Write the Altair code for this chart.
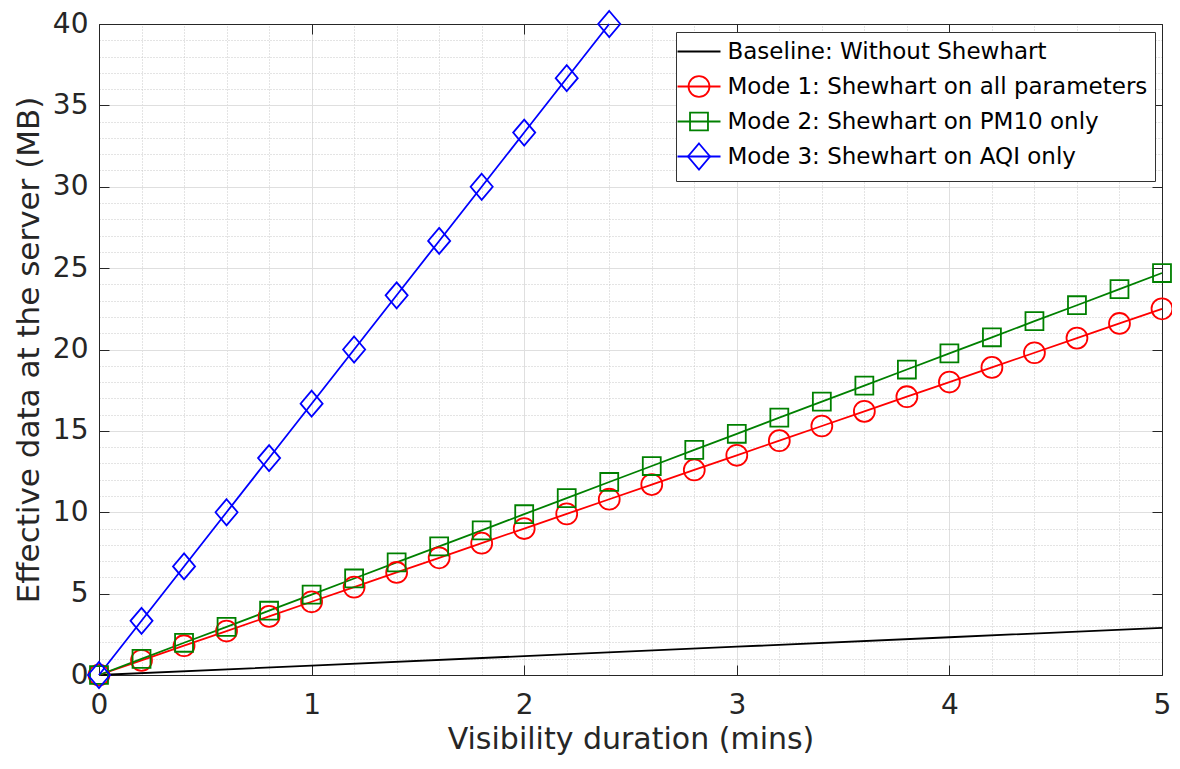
import altair as alt
import pandas as pd

# ---------------- data ----------------
names = [
    "Baseline: Without Shewhart",
    "Mode 1: Shewhart on all parameters",
    "Mode 2: Shewhart on PM10 only",
    "Mode 3: Shewhart on AQI only",
]
colors = ["#000000", "#ff0000", "#008000", "#0000ff"]

x_base = [0, 1, 2, 3, 4, 5]
baseline = [0.0, 0.58, 1.16, 1.74, 2.32, 2.90]

x_modes = [0.0, 0.2, 0.4, 0.6, 0.8, 1.0, 1.2, 1.4, 1.6, 1.8, 2.0, 2.2, 2.4,
           2.6, 2.8, 3.0, 3.2, 3.4, 3.6, 3.8, 4.0, 4.2, 4.4, 4.6, 4.8, 5.0]
mode1 = [0.0, 0.9, 1.8, 2.7, 3.6, 4.5, 5.4, 6.3, 7.2, 8.1, 9.0, 9.9, 10.8,
         11.7, 12.6, 13.5, 14.4, 15.3, 16.2, 17.1, 18.0, 18.9, 19.8, 20.7, 21.6, 22.5]
mode2 = [0.0, 0.99, 1.98, 2.96, 3.95, 4.94, 5.93, 6.92, 7.90, 8.89, 9.88, 10.87, 11.86,
         12.84, 13.83, 14.82, 15.81, 16.80, 17.78, 18.77, 19.76, 20.75, 21.74, 22.72, 23.71, 24.70]
x_mode3 = [0.0, 0.2, 0.4, 0.6, 0.8, 1.0, 1.2, 1.4, 1.6, 1.8, 2.0, 2.2, 2.4]
mode3 = [0.0, 3.33, 6.67, 10.0, 13.33, 16.67, 20.0, 23.33, 26.67, 30.0, 33.33, 36.67, 40.0]

x_ticks = [0, 1, 2, 3, 4, 5]
y_ticks = [0, 5, 10, 15, 20, 25, 30, 35, 40]
x_minor = [0.2, 0.4, 0.6, 0.8, 1.2, 1.4, 1.6, 1.8, 2.2, 2.4, 2.6, 2.8, 3.2, 3.4,
           3.6, 3.8, 4.2, 4.4, 4.6, 4.8]
y_minor = [v for v in range(41) if v % 5 != 0]

# ---------------- table ----------------
rows = []
for xs, ys, n in [(x_base, baseline, names[0]), (x_modes, mode1, names[1]),
                  (x_modes, mode2, names[2]), (x_mode3, mode3, names[3])]:
    for xv, yv in zip(xs, ys):
        rows.append({"x": xv, "y": yv, "series": n, "series_m": n + " "})
df = pd.DataFrame(rows)

W, H = 1063, 651
F = "DejaVu Sans"
AX = "#262626"

xscale = alt.Scale(domain=[0, 5], nice=False, zero=False)
yscale = alt.Scale(domain=[0, 40], nice=False, zero=False)

# marker paths (unit = sqrt(size)/2 = 11.5 px); EXT gives every symbol the same
# (invisible) extent so that both legends lay their rows out identically
EXT = "M-1.87,-1.135L-1.87,-1.135M1.87,1.135L1.87,1.135"
shape_paths = [
    "M0,0L0,0" + EXT,
    "M-0.91,0A0.91,0.91 0 1,0 0.91,0A0.91,0.91 0 1,0 -0.91,0Z" + EXT,
    "M-0.78,-0.78H0.78V0.78H-0.78Z" + EXT,
    "M0,-1.13L0.96,0L0,1.13L-0.96,0Z" + EXT,
]
SYM = 529

common_leg = dict(orient="none", legendX=577, legendY=8, title=None,
                  symbolSize=SYM, symbolStrokeWidth=1.8, symbolOffset=3.5,
                  labelOffset=16, labelFont=F, labelFontSize=23, labelLimit=0,
                  rowPadding=0, padding=7)

legA = alt.Legend(symbolType="M-1.87,0H1.87" + EXT, labelColor="black",
                  strokeColor="#333333", fillColor="white", zindex=1, **common_leg)
legB = alt.Legend(labelExpr="' '", symbolFillColor="transparent",
                  zindex=2, **common_leg)

# axes
XA = alt.Axis(orient="bottom", values=x_ticks, format="d", labelFont=F, labelFontSize=28,
              labelColor=AX, labelPadding=16, labelFlush=False, labelOverlap=False,
              ticks=False, domain=True, domainColor=AX, domainWidth=1,
              grid=True, gridColor="#dfdfdf", gridWidth=1,
              title="Visibility duration (mins)", titleFont=F, titleFontSize=30,
              titleColor=AX, titleFontWeight="normal", titlePadding=5)
YA = alt.Axis(orient="left", values=y_ticks, format="d", labelFont=F, labelFontSize=28,
              labelColor=AX, labelPadding=11, labelFlush=False, labelOverlap=False,
              ticks=False, domain=True, domainColor=AX, domainWidth=1,
              grid=True, gridColor="#dfdfdf", gridWidth=1,
              title="Effective data at the server (MB)", titleFont=F, titleFontSize=31,
              titleColor=AX, titleFontWeight="normal", titlePadding=7)
XB = alt.Axis(orient="top", values=x_minor, labels=False, ticks=False, domain=True,
              domainColor=AX, domainWidth=1, grid=True, gridDash=[1, 2],
              gridColor="#c8c8c8", gridWidth=1, title=None)
YB = alt.Axis(orient="right", values=y_minor, labels=False, ticks=False, domain=True,
              domainColor=AX, domainWidth=1, grid=True, gridDash=[1, 2],
              gridColor="#c8c8c8", gridWidth=1, title=None)
XC = alt.Axis(orient="top", offset=-H, values=x_ticks, labels=False, ticks=True,
              tickSize=10, tickColor=AX, tickWidth=1, domain=False, grid=False, title=None)
YC = alt.Axis(orient="right", offset=-W, values=y_ticks, labels=False, ticks=True,
              tickSize=10, tickColor=AX, tickWidth=1, domain=False, grid=False, title=None)
XD = alt.Axis(orient="bottom", offset=-H, values=x_ticks, labels=False, ticks=True,
              tickSize=10, tickColor=AX, tickWidth=1, domain=False, grid=False, title=None)
YD = alt.Axis(orient="left", offset=-W, values=y_ticks, labels=False, ticks=True,
              tickSize=10, tickColor=AX, tickWidth=1, domain=False, grid=False, title=None)

base = alt.Chart(df)

lines = base.mark_line(strokeWidth=1.8).encode(
    x=alt.X("x:Q", scale=xscale, axis=XA),
    y=alt.Y("y:Q", scale=yscale, axis=YA),
    color=alt.Color("series:N", scale=alt.Scale(domain=names, range=colors), legend=legA),
    order="x:Q",
)

names_m = [n + " " for n in names]
points = base.transform_filter(alt.datum.series != names[0]).mark_point(
    filled=False, size=SYM, strokeWidth=1.8, opacity=1
).encode(
    x=alt.X("x:Q", scale=xscale, axis=XB),
    y=alt.Y("y:Q", scale=yscale, axis=YB),
    stroke=alt.Stroke("series_m:N", scale=alt.Scale(domain=names_m, range=colors), legend=legB),
    shape=alt.Shape("series_m:N", scale=alt.Scale(domain=names_m, range=shape_paths), legend=legB),
)

inv1 = base.mark_point(opacity=0, size=1).encode(
    x=alt.X("x:Q", scale=xscale, axis=XC),
    y=alt.Y("y:Q", scale=yscale, axis=YC),
)
inv2 = base.mark_point(opacity=0, size=1).encode(
    x=alt.X("x:Q", scale=xscale, axis=XD),
    y=alt.Y("y:Q", scale=yscale, axis=YD),
)

chart = alt.layer(lines, points, inv1, inv2).resolve_scale(
    x="shared", y="shared"
).resolve_axis(
    x="independent", y="independent"
).properties(
    width=W, height=H,
    autosize=alt.AutoSizeParams(type="none"),
    padding={"left": 91, "top": 16, "right": 10, "bottom": 80},
    background="white",
).configure_view(stroke=None)

chart.save("out.html", embed_options={"renderer": "svg", "actions": False})
